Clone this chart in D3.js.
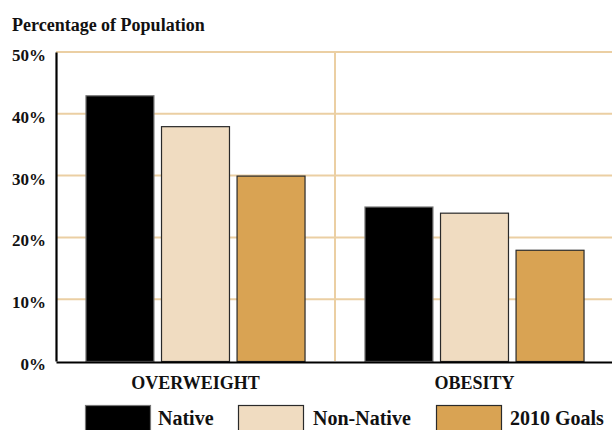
<!DOCTYPE html>
<html>
<head>
<meta charset="utf-8">
<script src="https://cdn.jsdelivr.net/npm/d3@7"></script>
<style>
  html, body { margin: 0; padding: 0; background: #fff; }
  svg { display: block; }
  text { font-family: "Liberation Serif", "Times New Roman", serif; font-weight: bold; fill: #111; }
</style>
</head>
<body>
<svg id="chart" width="612" height="430"></svg>
<script>
const categories = ["OVERWEIGHT", "OBESITY"];
const seriesNames = ["Native", "Non-Native", "2010 Goals"];
const nativeValues = [43, 25];
const nonNativeValues = [38, 24];
const goalValues = [30, 18];
const yTicks = [0, 10, 20, 30, 40, 50];
const yTickLabels = ["0%", "10%", "20%", "30%", "40%", "50%"];
const colors = ["#000000", "#F0DCC1", "#D9A353"];
const titleText = "Percentage of Population";

const seriesValues = [nativeValues, nonNativeValues, goalValues];
const data = categories.map((c, i) => ({
  category: c,
  values: seriesNames.map((s, j) => ({ series: s, value: seriesValues[j][i], color: colors[j] }))
}));

const svg = d3.select("#chart");
const plotLeft = 56, plotRight = 614, plotTop = 52, plotBottom = 361;

const x0 = d3.scaleBand().domain(categories).range([plotLeft, plotRight]).padding(0);
const x1 = d3.scaleBand().domain(seriesNames).range([0, x0.bandwidth()])
  .paddingInner(0.087).paddingOuter(0.39);
const y = d3.scaleLinear().domain([0, 50]).range([plotBottom, plotTop]);

// title
svg.append("text").attr("x", 12).attr("y", 31).attr("font-size", 18).text(titleText);

// gridlines
svg.append("g").selectAll("line").data(yTicks.filter(t => t > 0)).join("line")
  .attr("x1", plotLeft).attr("x2", 612)
  .attr("y1", d => y(d)).attr("y2", d => y(d))
  .attr("stroke", "#EBCFA3").attr("stroke-width", 2);

// divider between groups
svg.append("line")
  .attr("x1", x0("OBESITY")).attr("x2", x0("OBESITY"))
  .attr("y1", y(50)).attr("y2", y(0))
  .attr("stroke", "#EBCFA3").attr("stroke-width", 2);

// bars
const groups = svg.append("g").selectAll("g").data(data).join("g")
  .attr("transform", d => `translate(${x0(d.category)},0)`);
groups.selectAll("rect").data(d => d.values).join("rect")
  .attr("x", d => x1(d.series) + 0.5)
  .attr("y", d => y(d.value) + 0.5)
  .attr("width", x1.bandwidth() - 1)
  .attr("height", d => y(0) - y(d.value))
  .attr("fill", d => d.color)
  .attr("stroke", (d, i) => i === 0 ? "#777" : "#2a2a2a")
  .attr("stroke-width", 1.2);

// y axis
const yAxis = d3.axisLeft(y).tickValues(yTicks)
  .tickFormat((d, i) => yTickLabels[i]).tickSize(0).tickPadding(10);
const gy = svg.append("g").attr("transform", `translate(${plotLeft},0)`).call(yAxis);
gy.select(".domain").attr("stroke", "#000").attr("stroke-width", 2.2);
gy.selectAll("text").attr("font-size", 17).attr("font-family", "Liberation Serif")
  .attr("font-weight", "bold").attr("fill", "#111").attr("dy", "0.5em");

// x axis
const xAxis = d3.axisBottom(x0).tickSize(0).tickPadding(12);
const gx = svg.append("g").attr("transform", `translate(0,${plotBottom + 1})`).call(xAxis);
gx.select(".domain").attr("stroke", "#000").attr("stroke-width", 2.2);
gx.selectAll("text").attr("font-size", 18).attr("font-family", "Liberation Serif")
  .attr("font-weight", "bold").attr("fill", "#111").attr("dy", "0.85em");

// legend
const legendSwatchX = [85, 238, 436];
const legendTextX = [158, 313, 510];
const legend = svg.append("g");
seriesNames.forEach((s, i) => {
  legend.append("rect")
    .attr("x", legendSwatchX[i] + 0.5).attr("y", 405.5)
    .attr("width", 65).attr("height", 26)
    .attr("fill", colors[i])
    .attr("stroke", i === 0 ? "#777" : "#2a2a2a").attr("stroke-width", 1.2);
  legend.append("text").attr("x", legendTextX[i]).attr("y", 425)
    .attr("font-size", 20).text(s);
});
</script>
</body>
</html>
